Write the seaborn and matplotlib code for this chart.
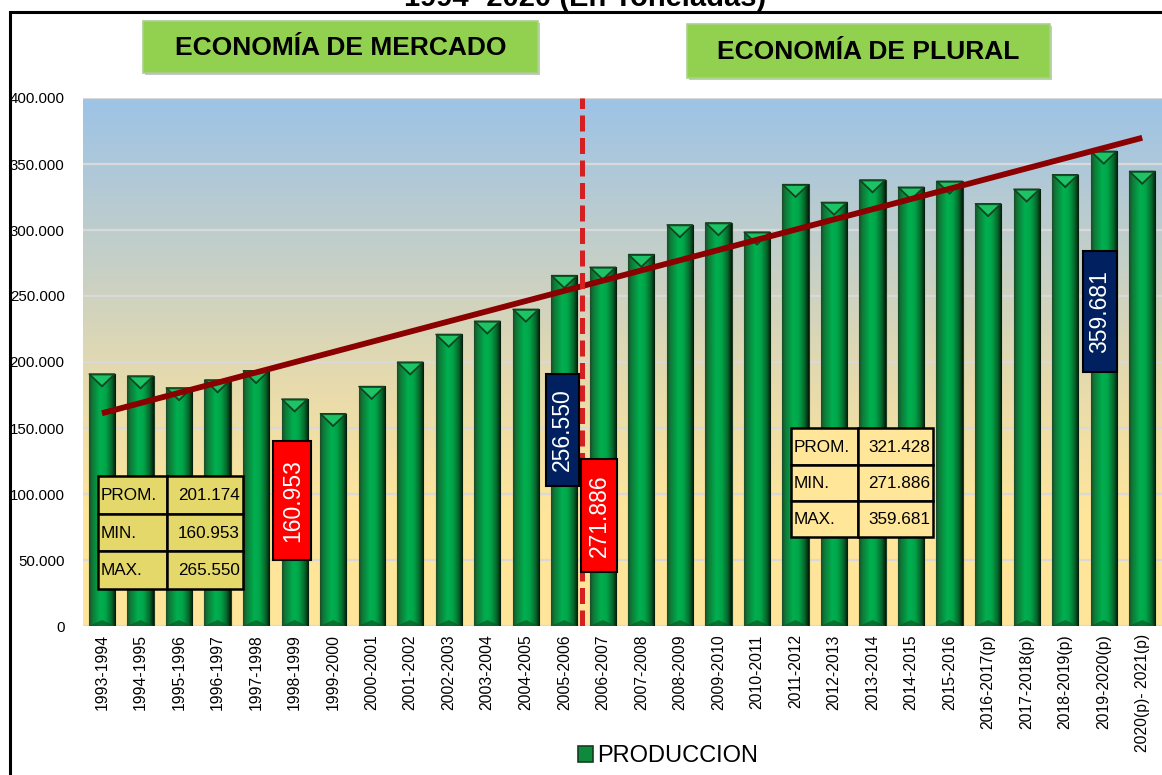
import numpy as np
import pandas as pd
import matplotlib
matplotlib.use("Agg")
import matplotlib.pyplot as plt
import seaborn as sns
from matplotlib.colors import LinearSegmentedColormap
from matplotlib.patches import Rectangle, Polygon, Patch
from matplotlib import font_manager as fm
from matplotlib.ticker import FuncFormatter, MultipleLocator

# ---------------- data ----------------
periods = ["1993-1994", "1994-1995", "1995-1996", "1996-1997", "1997-1998",
           "1998-1999", "1999-2000", "2000-2001", "2001-2002", "2002-2003",
           "2003-2004", "2004-2005", "2005-2006", "2006-2007", "2007-2008",
           "2008-2009", "2009-2010", "2010-2011", "2011-2012", "2012-2013",
           "2013-2014", "2014-2015", "2015-2016", "2016-2017(p)", "2017-2018(p)",
           "2018-2019(p)", "2019-2020(p)", "2020(p)- 2021(p)"]
produccion = [191000, 189500, 180500, 186500, 193500,
              172000, 160953, 181500, 200000, 221000,
              231000, 240000, 265550, 271886, 281500,
              304000, 305500, 298500, 334500, 321000,
              338000, 332500, 337000, 320000, 331000,
              342000, 359681, 344500]

title_text = "1994- 2020 (En Toneladas)"
header_left = "ECONOMÍA DE MERCADO"
header_right = "ECONOMÍA DE PLURAL"
legend_label = "PRODUCCION"
stats_labels = ["PROM.", "MIN.", "MAX."]
stats_mercado = ["201.174", "160.953", "265.550"]
stats_plural = ["321.428", "271.886", "359.681"]
callout_texts = ["160.953", "256.550", "271.886", "359.681"]

# ---------------- style ----------------
sns.set_theme(style="white")
plt.rcParams["font.family"] = ["Liberation Sans", "DejaVu Sans"]
plt.rcParams["text.color"] = "black"
plt.rcParams["xtick.color"] = "black"
plt.rcParams["ytick.color"] = "black"

W, H = 1162, 775
fig = plt.figure(figsize=(W / 100, H / 100), dpi=100)
fig.patch.set_facecolor("white")

def fx(px):
    return px / W

def fy(py):
    return 1 - py / H

ax = fig.add_axes([fx(82.7), fy(626), (1161.5 - 82.7) / W, (626 - 98) / H])

# background gradient
bg_cmap = LinearSegmentedColormap.from_list(
    "bg", [(0.0, "#FFE699"), (0.22, "#FEE59B"), (0.45, "#E8DBAC"),
           (0.7, "#C4CFC8"), (1.0, "#9DC3E6")])
ax.imshow(np.linspace(0, 1, 256).reshape(-1, 1), cmap=bg_cmap, origin="lower",
          extent=[0, 1, 0, 1], transform=ax.transAxes, aspect="auto", zorder=0)

df = pd.DataFrame({"periodo": periods, "produccion": produccion})
sns.barplot(data=df, x="periodo", y="produccion", color="#00A04A", saturation=1,
            width=0.68, ax=ax, zorder=2)

ax.set_xlim(-0.5, len(periods) - 0.5)
ax.set_ylim(0, 400000)
ax.yaxis.set_major_locator(MultipleLocator(50000))
ax.yaxis.set_major_formatter(FuncFormatter(lambda v, p: f"{int(v):,}".replace(",", ".")))
ax.grid(axis="y", color="#D9D9D9", linewidth=1.6, zorder=1)
ax.grid(axis="x", visible=False)
ax.set_axisbelow(True)
for s in ax.spines.values():
    s.set_visible(False)
ax.set_xlabel("")
ax.set_ylabel("")
ax.tick_params(axis="x", labelrotation=90, labelsize=11.3, pad=6, length=0, colors="black")
ax.tick_params(axis="y", labelsize=10.8, pad=13, length=0, colors="black")

# bar shading (cylinder look)
bar_cmap = LinearSegmentedColormap.from_list(
    "bar", [(0.0, "#1B4D2A"), (0.12, "#0E7A37"), (0.42, "#00B050"),
            (0.62, "#00A549"), (0.85, "#07662B"), (1.0, "#031A0A")])
grad = np.linspace(0, 1, 64).reshape(1, -1)
ax_h_px = ax.get_window_extent().height
y_per_px = 400000 / ax_h_px
for patch in list(ax.patches):
    x0 = patch.get_x()
    w = patch.get_width()
    h = patch.get_height()
    patch.set_edgecolor("#1E3A22")
    patch.set_linewidth(0.8)
    im = ax.imshow(grad, cmap=bar_cmap, extent=[x0, x0 + w, 0, h],
                   aspect="auto", zorder=2.2, interpolation="bilinear")
    im.set_clip_path(patch)
    tri_h = 13 * y_per_px
    # pyramid top: dark rim then bright triangle
    ax.add_patch(Polygon([(x0, h), (x0 + w, h), (x0 + w * 0.5, h - tri_h)],
                         closed=True, facecolor="#0B5A27", edgecolor="#173D20",
                         linewidth=0.8, zorder=2.4))
    ax.add_patch(Polygon([(x0 + w * 0.12, h - tri_h * 0.12), (x0 + w * 0.88, h - tri_h * 0.12),
                          (x0 + w * 0.5, h - tri_h * 0.85)],
                         closed=True, facecolor="#1CC466", edgecolor="none", zorder=2.5))
    # bottom bevel
    bh = 6 * y_per_px
    ax.add_patch(Polygon([(x0, 0), (x0 + w, 0), (x0 + w * 0.5, bh)],
                         closed=True, facecolor="#0A5A25", edgecolor="none",
                         alpha=0.7, zorder=2.4))

ax.set_xlim(-0.5, len(periods) - 0.5)
ax.set_ylim(0, 400000)

# trend line (linear fit of the data)
xs = np.arange(len(produccion))
slope, intercept = np.polyfit(xs, produccion, 1)
ax.plot([xs[0], xs[-1]], [intercept + slope * xs[0], intercept + slope * xs[-1]],
        color="#8B0000", linewidth=4.2, solid_capstyle="butt", zorder=4)

# regime divider
ax.axvline(12.45, color="#D42020", linewidth=3.6, linestyle=(0, (3.2, 1.3)), zorder=4.5)

# callout boxes: (x center, width, y bottom, y top, color)
callout_layout = [(4.94, 0.99, 50000, 140000, "#FF0000"),
                  (11.95, 0.84, 106000, 191000, "#002060"),
                  (12.9, 0.94, 41000, 126500, "#FF0000"),
                  (25.9, 0.88, 192500, 284000, "#002060")]
for txt, (xc, bw, yb, yt, col) in zip(callout_texts, callout_layout):
    ax.add_patch(Rectangle((xc - bw / 2, yb), bw, yt - yb, facecolor=col,
                           edgecolor="black", linewidth=1.5, zorder=5))
    ax.text(xc, (yb + yt) / 2, txt, rotation=90, ha="center", va="center",
            color="white", fontsize=16.5, zorder=6)

# stats tables (figure pixel layout)
names = {f.name for f in fm.fontManager.ttflist}
if "Liberation Sans Narrow" in names:
    tfam, tsize = ["Liberation Sans Narrow", "DejaVu Sans"], 14.5
else:
    tfam, tsize = ["Liberation Sans", "DejaVu Sans"], 12.3

def draw_table(x0, xs_, x1, rows, fill, labels, values):
    for i in range(3):
        ya, yb_ = rows[i], rows[i + 1]
        for (ca, cb) in [(x0, xs_), (xs_, x1)]:
            fig.add_artist(Rectangle((fx(ca), fy(yb_)), (cb - ca) / W, (yb_ - ya) / H,
                                     transform=fig.transFigure, facecolor=fill,
                                     edgecolor="black", linewidth=1.8, zorder=7))
        ym = fy((ya + yb_) / 2 + 1)
        fig.text(fx(x0 + 3), ym, labels[i], ha="left", va="center",
                 fontsize=tsize, family=tfam, color="black", zorder=8)
        fig.text(fx(x1 - 3), ym, values[i], ha="right", va="center",
                 fontsize=tsize, family=tfam, color="black", zorder=8)

draw_table(98, 167, 243, [476, 513.5, 551, 588.5], "#E4D86A", stats_labels, stats_mercado)
draw_table(791, 858, 933, [428, 465, 501, 537], "#FFE699", stats_labels, stats_plural)

# outer frame
fig.add_artist(Rectangle((fx(10), -0.05), 1.2, fy(12) + 0.05, transform=fig.transFigure,
                         facecolor="none", edgecolor="black", linewidth=2.2, zorder=10))

# title (partially cut off at the top, as in the source)
fig.text(fx(585), fy(6), title_text, ha="center", va="baseline",
         fontsize=21, fontweight="bold", color="black")

# header boxes
for (x0, x1, y0, y1), txt in zip([(143, 538, 21, 73), (687, 1050, 24, 78)],
                                 [header_left, header_right]):
    fig.add_artist(Rectangle((fx(x0) + 0.002, fy(y1) - 0.003), (x1 - x0) / W, (y1 - y0) / H,
                             transform=fig.transFigure, facecolor="#C8C8C8",
                             edgecolor="none", zorder=8))
    fig.add_artist(Rectangle((fx(x0), fy(y1)), (x1 - x0) / W, (y1 - y0) / H,
                             transform=fig.transFigure, facecolor="#92D050",
                             edgecolor="#A9D18E", linewidth=1.2, zorder=9))
    fig.text(fx((x0 + x1) / 2), fy((y0 + y1) / 2 + 1), txt, ha="center", va="center",
             fontsize=19, fontweight="bold", color="black", zorder=11)

# legend
handle = Patch(facecolor="#0E8A3C", edgecolor="#173D20", linewidth=1.2)
leg = fig.legend([handle], [legend_label], loc="center",
                 bbox_to_anchor=(fx(668), fy(756)), frameon=False, fontsize=17,
                 handlelength=0.65, handleheight=0.65, handletextpad=0.15,
                 borderaxespad=0, borderpad=0)
for t in leg.get_texts():
    t.set_color("black")

fig.savefig("out.png", dpi=100, facecolor="white")
